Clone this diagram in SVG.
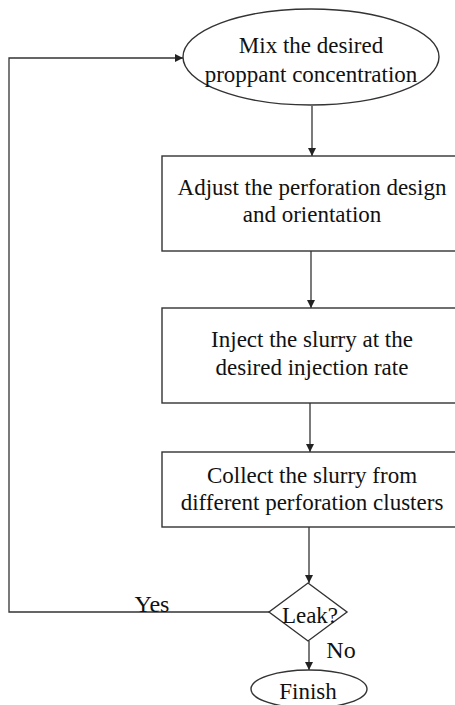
<svg xmlns="http://www.w3.org/2000/svg" width="455" height="705" viewBox="0 0 455 705">
<style>
.shape{fill:#fff;stroke:#333;stroke-width:1.4}
.line{fill:none;stroke:#333;stroke-width:1.3}
text{font-family:"Liberation Serif","Times New Roman",serif;font-size:23px;fill:#111;text-anchor:middle}
</style>
<defs>
<marker id="arr" viewBox="0 0 10 10" refX="10" refY="5" markerWidth="8" markerHeight="8" markerUnits="userSpaceOnUse" orient="auto">
<path d="M0,0 L10,5 L0,10 z" fill="#222"/>
</marker>
</defs>
<g id="connectors">
<line class="line" x1="312" y1="106" x2="312" y2="156" marker-end="url(#arr)"/>
<line class="line" x1="311" y1="251" x2="311" y2="308" marker-end="url(#arr)"/>
<line class="line" x1="310" y1="403" x2="310" y2="452" marker-end="url(#arr)"/>
<line class="line" x1="309" y1="527" x2="309" y2="583" marker-end="url(#arr)"/>
<line class="line" x1="309" y1="641" x2="309" y2="670" marker-end="url(#arr)"/>
<polyline class="line" points="269,612 9,612 9,58 183,58" marker-end="url(#arr)"/>
<text x="152" y="612" style="font-size:24px">Yes</text>
<text x="341" y="658" style="font-size:24px">No</text>
</g>
<g id="start">
<ellipse class="shape" cx="311" cy="57" rx="128" ry="48"/>
<text x="311" y="53">Mix the desired</text>
<text x="311" y="82">proppant concentration</text>
</g>
<g id="adjust">
<rect class="shape" x="162" y="156" width="300" height="95"/>
<text x="312" y="195">Adjust the perforation design</text>
<text x="312" y="222">and orientation</text>
</g>
<g id="inject">
<rect class="shape" x="162" y="308" width="300" height="95"/>
<text x="312" y="347">Inject the slurry at the</text>
<text x="312" y="375">desired injection rate</text>
</g>
<g id="collect">
<rect class="shape" x="162" y="452" width="300" height="75"/>
<text x="312" y="483">Collect the slurry from</text>
<text x="312" y="510">different perforation clusters</text>
</g>
<g id="leak">
<polygon class="shape" points="308,583 347,612 308,641 269,612"/>
<text x="310" y="623">Leak?</text>
</g>
<g id="finish">
<ellipse class="shape" cx="309" cy="689" rx="58" ry="19"/>
<text x="308" y="699">Finish</text>
</g>
</svg>
